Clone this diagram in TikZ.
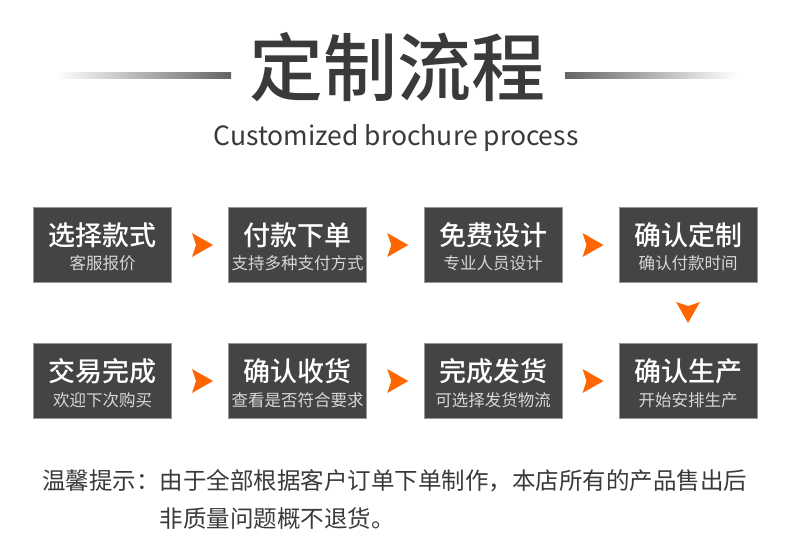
\documentclass[tikz,border=0pt]{standalone}
\usepackage{fontspec}
\setmainfont{Noto Sans CJK SC}
\newfontfamily\medfont{Noto Sans CJK SC Medium}
\usepackage{tikz}
\usetikzlibrary{calc}
\usepackage{xcolor}
\definecolor{dkgray}{RGB}{58,58,58}
\definecolor{boxgray}{RGB}{68,68,68}
\definecolor{edgegray}{RGB}{150,150,150}
\definecolor{subgray}{RGB}{215,215,215}
\definecolor{linegray}{RGB}{100,100,100}
\definecolor{tiporange}{RGB}{255,102,0}
\tikzstyle{stepbox} = [draw=edgegray, line width=0.8pt, fill=boxgray, minimum width=138pt, minimum height=75pt, inner sep=0pt]
\tikzstyle{steptitle} = [inner sep=0pt, text=white, font=\fontsize{27}{30}\selectfont\medfont]
\tikzstyle{stepsub} = [inner sep=0pt, text=subgray, font=\fontsize{16.5}{20}\selectfont]
\tikzstyle{pointer} = [fill=tiporange]

\begin{document}
\begin{tikzpicture}[x=1pt, y=-1pt]
\useasboundingbox[fill=white] (0,0) rectangle (790,553);

% Heading
\node[inner sep=0pt, text=dkgray, font=\fontsize{74}{80}\selectfont\medfont] (head) at (397,67) {定制流程};
\shade[left color=white, right color=linegray] (57,73) rectangle (231,79);
\shade[left color=linegray, right color=white] (565,73) rectangle (737,79);
\node[inner sep=0pt, text=dkgray, font=\fontsize{26.5}{30}\selectfont] (subhead) at (396,138) {Customized brochure process};

% Steps, first row
\node[stepbox] (choose) at (102.5,245) {};
\node[stepbox] (pay) at (297.5,245) {};
\node[stepbox] (design) at (493,245) {};
\node[stepbox] (confirm) at (688,245) {};
\node[steptitle] at ([yshift=10pt]choose.center) {选择款式};
\node[stepsub] at ([yshift=-18pt]choose.center) {客服报价};
\node[steptitle] at ([yshift=10pt]pay.center) {付款下单};
\node[stepsub] at ([yshift=-18pt]pay.center) {支持多种支付方式};
\node[steptitle] at ([yshift=10pt]design.center) {免费设计};
\node[stepsub] at ([yshift=-18pt]design.center) {专业人员设计};
\node[steptitle] at ([yshift=10pt]confirm.center) {确认定制};
\node[stepsub] at ([yshift=-18pt]confirm.center) {确认付款时间};

% Steps, second row
\node[stepbox] (done) at (102.5,381) {};
\node[stepbox] (receive) at (297.5,381) {};
\node[stepbox] (ship) at (493,381) {};
\node[stepbox] (produce) at (688,381) {};
\node[steptitle] at ([yshift=10pt]done.center) {交易完成};
\node[stepsub] at ([yshift=-19pt]done.center) {欢迎下次购买};
\node[steptitle] at ([yshift=10pt]receive.center) {确认收货};
\node[stepsub] at ([yshift=-19pt]receive.center) {查看是否符合要求};
\node[steptitle] at ([yshift=10pt]ship.center) {完成发货};
\node[stepsub] at ([yshift=-19pt]ship.center) {可选择发货物流};
\node[steptitle] at ([yshift=10pt]produce.center) {确认生产};
\node[stepsub] at ([yshift=-19pt]produce.center) {开始安排生产};

% Pointers
\coordinate (p1) at ($(choose.east)!0.5!(pay.west)$);
\coordinate (p2) at ($(pay.east)!0.5!(design.west)$);
\coordinate (p3) at ($(design.east)!0.5!(confirm.west)$);
\coordinate (p4) at ($(done.east)!0.5!(receive.west)$);
\coordinate (p5) at ($(receive.east)!0.5!(ship.west)$);
\coordinate (p6) at ($(ship.east)!0.5!(produce.west)$);
\coordinate (p7) at ($(confirm.south)!0.5!(produce.north)$);
\fill[pointer] ($(p1)+(-8,-12)$) -- ($(p1)+(13,0)$) -- ($(p1)+(-8,12)$) -- ($(p1)+(-4,0)$) -- cycle;
\fill[pointer] ($(p2)+(-8,-12)$) -- ($(p2)+(13,0)$) -- ($(p2)+(-8,12)$) -- ($(p2)+(-4,0)$) -- cycle;
\fill[pointer] ($(p3)+(-8,-12)$) -- ($(p3)+(13,0)$) -- ($(p3)+(-8,12)$) -- ($(p3)+(-4,0)$) -- cycle;
\fill[pointer] ($(p4)+(-8,-12)$) -- ($(p4)+(13,0)$) -- ($(p4)+(-8,12)$) -- ($(p4)+(-4,0)$) -- cycle;
\fill[pointer] ($(p5)+(-8,-12)$) -- ($(p5)+(13,0)$) -- ($(p5)+(-8,12)$) -- ($(p5)+(-4,0)$) -- cycle;
\fill[pointer] ($(p6)+(-8,-12)$) -- ($(p6)+(13,0)$) -- ($(p6)+(-8,12)$) -- ($(p6)+(-4,0)$) -- cycle;
\fill[pointer] ($(p7)+(-12,-11)$) -- ($(p7)+(0,-7)$) -- ($(p7)+(12,-11)$) -- ($(p7)+(0,10)$) -- cycle;

% Note
\node[inner sep=0pt, anchor=base west, align=left, text=dkgray, font=\fontsize{23.5}{38}\selectfont] (note) at (42,527)
  {温馨提示：由于全部根据客户订单下单制作，本店所有的产品售出后\\\hphantom{温馨提示：}非质量问题概不退货。};
\end{tikzpicture}
\end{document}
